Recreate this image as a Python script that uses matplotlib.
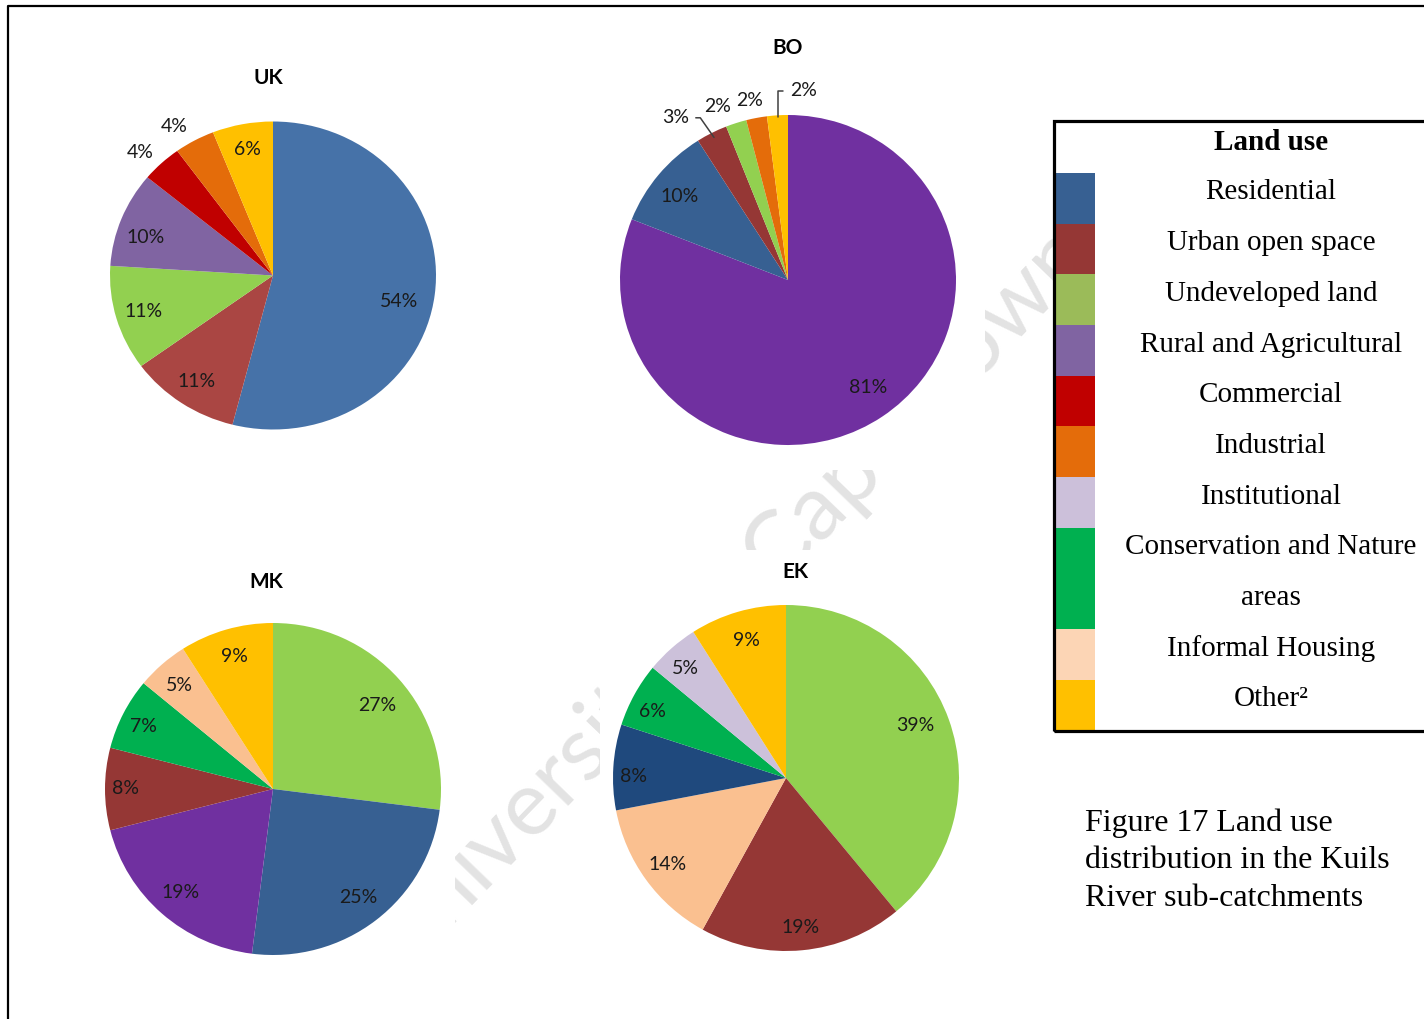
import numpy as np
import matplotlib.pyplot as plt
from matplotlib.patches import Rectangle
from matplotlib.lines import Line2D

# land use classes
RES = "Residential"
URB = "Urban open space"
UND = "Undeveloped land"
RUR = "Rural and Agricultural"
COM = "Commercial"
IND = "Industrial"
INS = "Institutional"
CON = "Conservation and Nature areas"
INF = "Informal Housing"
OTH = "Other"

# sub-catchment data (%)
uk_cats = [RES, URB, UND, RUR, COM, IND, OTH]
uk_vals = [54, 11, 11, 10, 4, 4, 6]

bo_cats = [RUR, RES, URB, UND, IND, OTH]
bo_vals = [81, 10, 3, 2, 2, 2]

mk_cats = [UND, RES, RUR, URB, CON, INF, OTH]
mk_vals = [27, 25, 19, 8, 7, 5, 9]

ek_cats = [UND, URB, INF, RES, CON, INS, OTH]
ek_vals = [39, 19, 14, 8, 6, 5, 9]

legend_cats = [RES, URB, UND, RUR, COM, IND, INS, CON, INF, OTH]
legend_text = ["Residential", "Urban open space", "Undeveloped land",
               "Rural and Agricultural", "Commercial", "Industrial",
               "Institutional", "Conservation and Nature\nareas",
               "Informal Housing", "Other\u00b2"]

# colours
pie_col = {RES: "#376092", URB: "#953735", UND: "#92D050", RUR: "#7030A0",
           COM: "#C00000", IND: "#E46C0A", INS: "#CCC1DA", CON: "#00B050",
           INF: "#FAC090", OTH: "#FFC000"}
uk_col = dict(pie_col, **{RES: "#4672A8", URB: "#AA4643", RUR: "#8064A2"})
ek_col = dict(pie_col, **{RES: "#1F497D"})
leg_col = {RES: "#376092", URB: "#953735", UND: "#9BBB59", RUR: "#8064A2",
           COM: "#C00000", IND: "#E46C0A", INS: "#CCC0DA", CON: "#00B050",
           INF: "#FCD5B5", OTH: "#FFC000"}

W, H = 1424, 1019
fig = plt.figure(figsize=(W / 100, H / 100), dpi=100)
fig.patch.set_facecolor("white")

LABEL_FONT = dict(family="Lato", fontsize=14, color="#1a1a1a")
TITLE_FONT = dict(family="Lato", fontsize=15, fontweight="bold", color="black")
SERIF = ["Liberation Serif", "DejaVu Serif"]


def fx(x):
    return x / W


def fy(y):
    return 1 - y / H


def draw_pie(rect, center, radii, cats, vals, colors, title, title_xy,
             over=None, leaders=None):
    x0, y0, x1, y1 = rect
    ax = fig.add_axes([fx(x0), fy(y1), (x1 - x0) / W, (y1 - y0) / H])
    wedges, _ = ax.pie(vals, colors=[colors[c] for c in cats], startangle=90,
                       counterclock=False, radius=1, center=(0, 0),
                       wedgeprops=dict(linewidth=0))
    cx, cy = center
    rx, ry = radii
    ax.set_aspect("auto")
    ax.set_xlim((x0 - cx) / rx, (x1 - cx) / rx)
    ax.set_ylim((cy - y1) / ry, (cy - y0) / ry)
    ax.set_frame_on(True)
    ax.set_facecolor("white")
    for s in ax.spines.values():
        s.set_visible(False)
    over = over or {}
    leaders = leaders or {}
    for i, (w, v) in enumerate(zip(wedges, vals)):
        mid = (w.theta1 + w.theta2) / 2
        d, da = over.get(i, (0.83, 0))
        a = np.radians(mid + da)
        pos = (d * np.cos(a), d * np.sin(a))
        if i in leaders:
            rr, angB = leaders[i]
            m = np.radians(mid)
            ax.annotate(f"{v}%", xy=(rr * np.cos(m), rr * np.sin(m)), xytext=pos,
                        ha="center", va="center", **LABEL_FONT,
                        arrowprops=dict(arrowstyle="-", color="#404040", lw=1.1,
                                        shrinkA=3, shrinkB=0,
                                        connectionstyle=f"angle,angleA=0,angleB={angB},rad=0"))
        else:
            ax.text(*pos, f"{v}%", ha="center", va="center", **LABEL_FONT)
    fig.text(fx(title_xy[0]), fy(title_xy[1]), title, ha="center", va="center",
             **TITLE_FONT)
    return ax


# watermark (sits behind the chart panels)
fig.text(fx(730), fy(602), "University of Cape Town", rotation=46,
         rotation_mode="anchor", ha="center", va="center", family="Lato",
         fontsize=66, color="#E3E3E3", zorder=-1)

draw_pie((10, 8, 455, 470), (273, 275.5), (163, 154), uk_cats, uk_vals, uk_col,
         "UK", (268, 78),
         over={0: (0.79, -5), 3: (0.82, 4.2), 4: (1.14, 2.3), 5: (1.14, 3.2)})
draw_pie((600, 8, 985, 470), (788, 280), (168, 165), bo_cats, bo_vals, pie_col,
         "BO", (788, 48),
         over={0: (0.81, 2), 1: (0.82, 1.5), 2: (1.19, 7.3), 3: (1.13, 3.8),
               4: (1.11, 1.1), 5: (1.15, -8.1)},
         leaders={2: (0.97, 125), 5: (0.99, 90)})
draw_pie((10, 560, 455, 1019), (273, 789), (168, 166), mk_cats, mk_vals, pie_col,
         "MK", (266, 582),
         over={0: (0.80, -2.2), 3: (0.88, 0), 4: (0.86, 1), 5: (0.84, 0.4)})
draw_pie((600, 550, 985, 1019), (786, 778), (173, 173), ek_cats, ek_vals, ek_col,
         "EK", (795, 572), over={0: (0.81, 2.4), 1: (0.87, 0), 2: (0.85, 0),
                                 3: (0.88, 3), 4: (0.86, 2.4), 5: (0.86, 1)})

# legend panel
box_l, box_t, box_b = 1054, 121, 731
fig.add_artist(Rectangle((fx(1095), fy(box_b)), (W + 20 - 1095) / W,
                         (box_b - box_t) / H, transform=fig.transFigure,
                         facecolor="white", edgecolor="none", zorder=1))
row_h = 50.7
top = 173
fig.text(fx(1271), fy(149.5), "Land use", ha="center", va="baseline",
         family=SERIF, fontsize=21, fontweight="bold", zorder=3)
for cat, txt in zip(legend_cats, legend_text):
    lines = txt.split("\n")
    fig.add_artist(Rectangle((fx(1055), fy(top + len(lines) * row_h)), 40 / W,
                             len(lines) * row_h / H, transform=fig.transFigure,
                             facecolor=leg_col[cat], edgecolor="none", zorder=2))
    for k, ln in enumerate(lines):
        fig.text(fx(1271), fy(top + 26.5 + k * row_h), ln, ha="center",
                 va="baseline", family=SERIF, fontsize=21, zorder=3)
    top += len(lines) * row_h
fig.add_artist(Rectangle((fx(box_l), fy(box_b)), (W + 20 - box_l) / W,
                         (box_b - box_t) / H, transform=fig.transFigure,
                         fill=False, edgecolor="black", linewidth=2.3, zorder=4))

# caption
caption = ["Figure 17 Land use", "distribution in the Kuils",
           "River sub-catchments"]
for k, ln in enumerate(caption):
    fig.text(fx(1085), fy(831 + k * 37.5), ln, ha="left", va="baseline",
             family=SERIF, fontsize=23)

# page frame
fig.add_artist(Line2D([fx(8), fx(8), 1.01], [-0.01, fy(5.5), fy(5.5)],
                      transform=fig.transFigure, color="black", lw=1.6))

fig.savefig("out.png", dpi=100, facecolor="white")
